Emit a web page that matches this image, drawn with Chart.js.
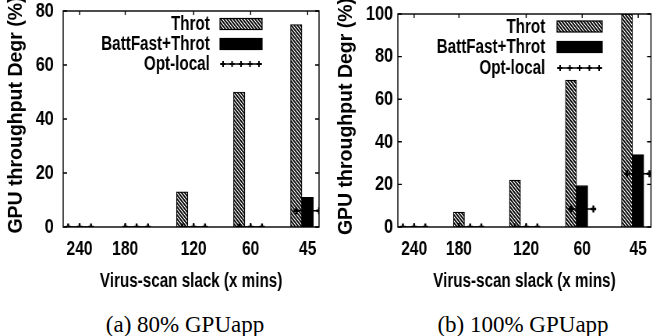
<!DOCTYPE html>
<html>
<head>
<meta charset="utf-8">
<script src="https://cdn.jsdelivr.net/npm/chart.js@4.4.0/dist/chart.umd.min.js"></script>
<style>
  body { margin: 0; background: #fff; }
  .wrap { position: relative; width: 660px; height: 336px; overflow: hidden; }
  canvas { position: absolute; top: 0; transform-origin: 0 0; }
  .cap {
    position: absolute; top: 312px; width: 330px; text-align: center;
    font: 23px "Liberation Serif", "Times New Roman", serif; color: #000;
  }
</style>
</head>
<body>
<div class="wrap">
  <canvas id="chart80" width="423" height="300" style="left:0"></canvas>
  <canvas id="chart100" width="423" height="300" style="left:330px"></canvas>
  <div class="cap" style="left:20px">(a) 80% GPUapp</div>
  <div class="cap" style="left:358px">(b) 100% GPUapp</div>
</div>
<script>
"use strict";

const slackLabels = ["240", "180", "120", "60", "45"];
const seriesNames = ["Throt", "BattFast+Throt", "Opt-local"];
const xTitleText = "Virus-scan slack (x mins)";
const yTitleText = "GPU throughput Degr (%)";

const throt80 = [0, 0, 13, 50, 75];
const battFast80 = [0, 0, 0, 0, 11];
const optLocal80 = [0, 0, 0, 0, 6];

const throt100 = [0, 7, 22, 69, 100];
const battFast100 = [0, 0, 0, 19.5, 34];
const optLocal100 = [0, 0, 0, 8.5, 25];

const yMax80 = 80;
const yMax100 = 100;

const sans = "'Liberation Sans', Arial, sans-serif";

// the original figure uses a narrow bold font, so draw wide and squeeze
const squeeze = 0.78;

// each cluster takes 5 slots: throt, battfast, opt-local end, then a gap
const clusterSlots = 5;
// which slot the x label sits under (180 is shifted in the original)
const labelSlot = [1, 0, 1, 1, 1];

function barPoints(values, slot) {
  return values.map((v, i) => ({ x: i * clusterSlots + slot, y: v }));
}

function optPoints(values) {
  const pts = [];
  values.forEach((v, i) => {
    for (let s = 0; s < 3; s++) {
      pts.push({ x: i * clusterSlots + s, y: v });
    }
    pts.push({ x: i * clusterSlots + 3.5, y: null });
  });
  return pts;
}

function hatchPattern() {
  const c = document.createElement("canvas");
  c.width = 4;
  c.height = 4;
  const g = c.getContext("2d");
  g.fillStyle = "#fff";
  g.fillRect(0, 0, 4, 4);
  g.strokeStyle = "#000";
  g.lineWidth = 1.6;
  g.beginPath();
  g.moveTo(0, 0); g.lineTo(4, 4);
  g.moveTo(-1, 3); g.lineTo(1, 5);
  g.moveTo(3, -1); g.lineTo(5, 1);
  g.stroke();
  return g.createPattern(c, "repeat");
}

function drawPlus(ctx, x, y, r) {
  ctx.beginPath();
  ctx.moveTo(x - r, y); ctx.lineTo(x + r, y);
  ctx.moveTo(x, y - r); ctx.lineTo(x, y + r);
  ctx.stroke();
}

const framePlugin = {
  id: "frame",
  afterDatasetsDraw(chart) {
    const { ctx, chartArea: a, scales } = chart;
    ctx.save();
    ctx.strokeStyle = "#000";
    ctx.lineWidth = 1.4;
    ctx.strokeRect(a.left, a.top, a.right - a.left, a.bottom - a.top);
    ctx.beginPath();
    scales.y.ticks.forEach((t) => {
      const py = scales.y.getPixelForValue(t.value);
      ctx.moveTo(a.left, py); ctx.lineTo(a.left + 5, py);
      ctx.moveTo(a.right, py); ctx.lineTo(a.right - 5, py);
    });
    scales.x.ticks.forEach((t) => {
      const px = scales.x.getPixelForValue(t.value);
      ctx.moveTo(px, a.bottom); ctx.lineTo(px, a.bottom - 4);
      ctx.moveTo(px, a.top); ctx.lineTo(px, a.top + 4);
    });
    ctx.stroke();
    ctx.restore();
  },
};

// rotated y title, undoing the squeeze so it keeps its normal thickness
const yTitle = {
  id: "yTitle",
  afterDraw(chart, args, o) {
    const { ctx, chartArea: a } = chart;
    ctx.save();
    ctx.translate(o.x, (a.top + a.bottom) / 2 - 4);
    ctx.scale(1 / squeeze, 1);
    ctx.rotate(-Math.PI / 2);
    ctx.font = "bold 19.5px " + sans;
    ctx.textAlign = "center";
    ctx.textBaseline = "middle";
    ctx.fillStyle = "#000";
    ctx.fillText(yTitleText, 0, 0);
    ctx.restore();
  },
};

const sideLegend = {
  id: "sideLegend",
  afterDraw(chart, args, o) {
    const ctx = chart.ctx;
    const w = o.sampleRight - o.sampleLeft;
    ctx.save();
    ctx.font = "bold 19.5px " + sans;
    ctx.textAlign = "right";
    ctx.textBaseline = "middle";
    chart.data.datasets.forEach((ds, i) => {
      const y = o.rows[i];
      ctx.fillStyle = "#000";
      ctx.fillText(ds.label, o.textRight, y + 1);
      ctx.strokeStyle = "#000";
      if (ds.type === "line") {
        ctx.lineWidth = 1.5;
        ctx.beginPath();
        ctx.moveTo(o.sampleLeft, y); ctx.lineTo(o.sampleRight, y);
        ctx.stroke();
        ctx.lineWidth = 2;
        for (let k = 0; k < 5; k++) {
          drawPlus(ctx, o.sampleLeft + 4 + k * (w - 8) / 4, y, 3);
        }
      } else {
        ctx.lineWidth = 1.2;
        ctx.fillStyle = ds.backgroundColor;
        ctx.fillRect(o.sampleLeft, y - 5.5, w, 11);
        ctx.strokeRect(o.sampleLeft, y - 5.5, w, 11);
      }
    });
    ctx.restore();
  },
};

function noEdgePadding(scale) {
  scale.paddingTop = 0;
  scale.paddingBottom = 0;
  scale.paddingLeft = 0;
  scale.paddingRight = 0;
}

function makeChart(id, throt, battFast, optLocal, yMax, look) {
  const canvas = document.getElementById(id);
  canvas.style.transform = `scaleX(${squeeze})`;
  const ctx = canvas.getContext("2d");
  const configuration = {
    type: "bar",
    data: {
      datasets: [
        {
          label: seriesNames[0],
          data: barPoints(throt, 0),
          backgroundColor: hatchPattern(),
          borderColor: "#000",
          borderWidth: 1.2,
          grouped: false,
          barPercentage: 1,
          categoryPercentage: 1,
          order: 2,
        },
        {
          label: seriesNames[1],
          data: barPoints(battFast, 1),
          backgroundColor: "#000",
          borderColor: "#000",
          borderWidth: 1,
          grouped: false,
          barPercentage: 1,
          categoryPercentage: 1,
          order: 2,
        },
        {
          type: "line",
          label: seriesNames[2],
          data: optPoints(optLocal),
          borderColor: "#000",
          borderWidth: 1.5,
          pointStyle: "cross",
          pointRadius: 3.5,
          pointBorderWidth: 2.5,
          pointBorderColor: "#000",
          spanGaps: false,
          order: 1,
        },
      ],
    },
    options: {
      responsive: false,
      animation: false,
      layout: {
        padding: { left: 0, top: look.padTop, right: look.padRight, bottom: 4 },
      },
      plugins: {
        legend: { display: false },
        tooltip: { enabled: false },
        sideLegend: look.legend,
        yTitle: { x: look.titleX },
      },
      scales: {
        x: {
          type: "linear",
          offset: false,
          min: look.xMin,
          max: look.xMax,
          grid: { display: false, drawTicks: false, offset: false },
          border: { display: false },
          afterBuildTicks: (scale) => {
            scale.ticks = slackLabels.map((l, i) => ({ value: i * clusterSlots + labelSlot[i] }));
          },
          afterFit: (scale) => {
            scale.height = 300 - 4 - look.padTop - look.plotHeight;
            noEdgePadding(scale);
          },
          ticks: {
            autoSkip: false,
            maxRotation: 0,
            padding: 10,
            color: "#000",
            font: { family: sans, size: 20, weight: "bold" },
            callback: (value, index) => slackLabels[index],
          },
          title: {
            display: true,
            text: xTitleText,
            color: "#000",
            font: { family: sans, size: 19.5, weight: "bold" },
            padding: { top: 0, bottom: 3 },
          },
        },
        y: {
          min: 0,
          max: yMax,
          grid: { display: false, drawTicks: false },
          border: { display: false },
          afterFit: (scale) => {
            scale.width = look.yWidth;
            noEdgePadding(scale);
          },
          ticks: {
            stepSize: 20,
            padding: look.tickPad,
            color: "#000",
            font: { family: sans, size: 21, weight: "bold" },
          },
          title: { display: false },
        },
      },
    },
    plugins: [framePlugin, yTitle, sideLegend],
  };
  return new Chart(ctx, configuration);
}

makeChart("chart80", throt80, battFast80, optLocal80, yMax80, {
  padTop: 11, plotHeight: 216, padRight: 14, yWidth: 81, tickPad: 12, titleX: 21,
  xMin: -0.44, xMax: 22.0,
  legend: { textRight: 269, sampleLeft: 282, sampleRight: 336, rows: [24, 44, 64] },
});

makeChart("chart100", throt100, battFast100, optLocal100, yMax100, {
  padTop: 14, plotHeight: 213, padRight: 11.5, yWidth: 87, tickPad: 6, titleX: 21,
  xMin: -0.45, xMax: 22.14,
  legend: { textRight: 276, sampleLeft: 291, sampleRight: 349, rows: [26.5, 47, 68] },
});
</script>
</body>
</html>
